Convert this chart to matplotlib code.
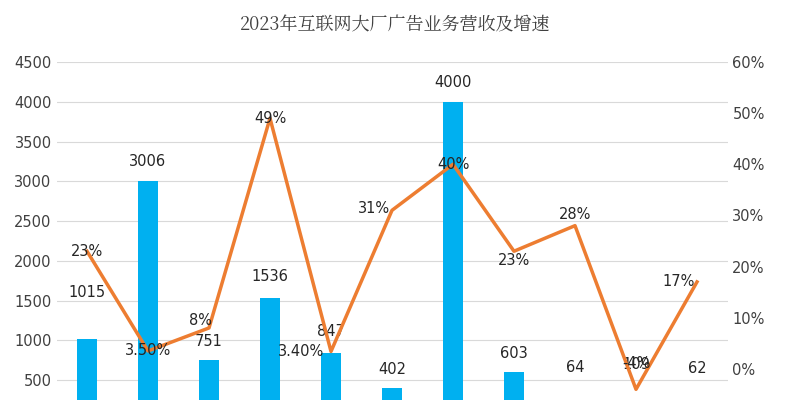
import matplotlib
matplotlib.use("Agg")
import matplotlib.pyplot as plt
from matplotlib import font_manager as fm

categories = list(range(11))
revenue = [1015, 3006, 751, 1536, 847, 402, 4000, 603, 64, 109, 62]
growth = [23, 3.5, 8, 49, 3.4, 31, 40, 23, 28, -4, 17]
growth_labels = ["23%", "3.50%", "8%", "49%", "3.40%", "31%", "40%", "23%", "28%", "-4%", "17%"]
title = "2023年互联网大厂广告业务营收及增速"

# label placement offsets (pixels)
bar_dy = [47, 19, 19, 21, 21, 19, 19, 19, 47, 47, 47]
line_dx = [0, 0, -8, 0, -30, -18, 0, 0, 0, 0, -18]
line_dy = [0, 0, 7, 0, 0, 2, 0, -9, 11, 26, 0]

cjk = None
for f in fm.fontManager.ttflist:
    if "CJK" in f.name and "SC" in f.name:
        cjk = f.name
        break
if cjk is None:
    for f in fm.fontManager.ttflist:
        if "CJK" in f.name:
            cjk = f.name
            break
plt.rcParams["font.family"] = ["DejaVu Sans"]

fig = plt.figure(figsize=(7.91, 4.0), dpi=100)
ax = fig.add_axes([56.5/791, -20/400, 671/791, 358/400])
ax.bar(categories, revenue, width=0.33, color="#00B0F0", zorder=2)
ax.set_ylim(0, 4500)
ax.set_xlim(-0.5, 10.5)
ax.set_yticks(range(0, 4501, 500))
ax.grid(axis="y", color="#d9d9d9", linewidth=0.8, zorder=0)
for s in ax.spines.values():
    s.set_visible(False)
ax.tick_params(length=0, labelsize=10.5, colors="#404040")
ax.set_xticks([])
for x, v, d in zip(categories, revenue, bar_dy):
    ax.annotate(str(v), (x, v), xytext=(0, d), textcoords="offset pixels",
                ha="center", va="center", fontsize=10.5, color="#262626")

ax2 = ax.twinx()
ax2.plot(categories, growth, color="#ED7D31", linewidth=2.5, zorder=3)
ax2.set_ylim(-10, 60)
ax2.set_yticks(range(0, 61, 10))
ax2.set_yticklabels([f"{t}%" for t in range(0, 61, 10)])
for s in ax2.spines.values():
    s.set_visible(False)
ax2.tick_params(length=0, labelsize=10.5, colors="#404040")
for x, v, l, dx, dy in zip(categories, growth, growth_labels, line_dx, line_dy):
    ax2.annotate(l, (x, v), xytext=(dx, dy), textcoords="offset pixels",
                 ha="center", va="center", fontsize=10.5, color="#262626", zorder=4)

kw = {"family": cjk} if cjk else {}
fig.text(0.5, 1 - 25/400, title, ha="center", va="center", fontsize=13, color="#404040", **kw)
fig.savefig("out.png", dpi=100)
